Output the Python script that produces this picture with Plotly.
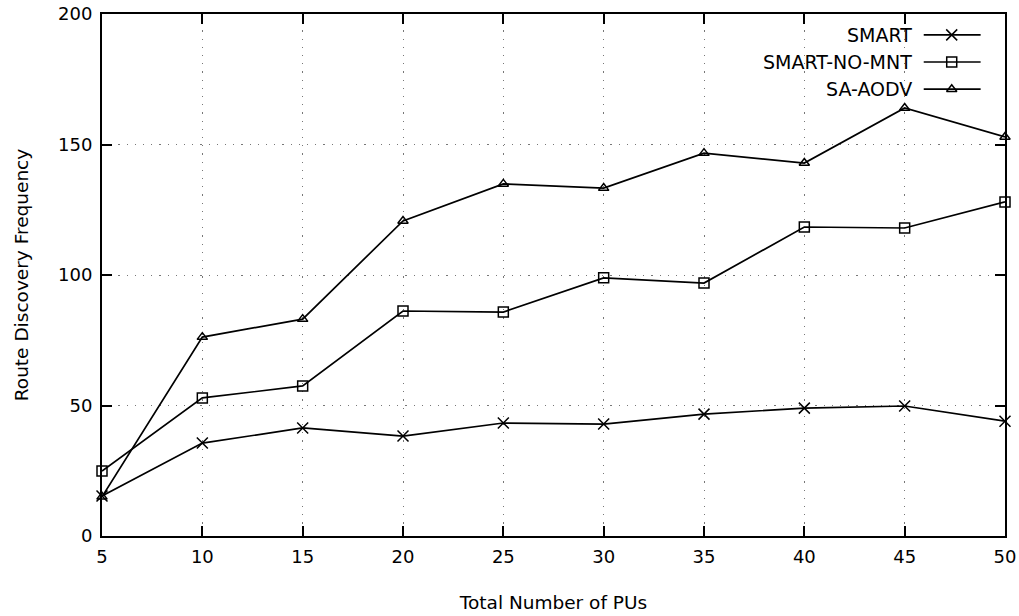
import plotly.graph_objects as go

x_pus = [5, 10, 15, 20, 25, 30, 35, 40, 45, 50]
smart = [15.3, 35.6, 41.4, 38.3, 43.3, 42.9, 46.7, 49.0, 49.8, 44.0]
smart_no_mnt = [24.9, 52.9, 57.5, 86.2, 85.8, 98.9, 96.9, 118.4, 118.0, 128.0]
sa_aodv = [15.0, 76.2, 83.1, 120.7, 134.9, 133.3, 146.7, 142.9, 164.0, 152.9]

series_names = ["SMART", "SMART-NO-MNT", "SA-AODV"]
series_values = [smart, smart_no_mnt, sa_aodv]
series_symbols = ["x-thin-open", "square-open", "triangle-up-open"]
marker_sizes = [11, 10, 9]

FONT = "DejaVu Sans"
fig = go.Figure()

for name, vals, sym, ms in zip(series_names, series_values, series_symbols, marker_sizes):
    fig.add_trace(go.Scatter(
        x=x_pus, y=vals, mode="lines+markers", name=name,
        line=dict(color="black", width=1.7),
        marker=dict(symbol=sym, size=ms, color="black", line=dict(color="black", width=1.5)),
        showlegend=False, cliponaxis=False,
    ))

# custom legend (text left of sample, gnuplot style) on an overlay axis in [0,1]
leg_y = [0.960, 0.908, 0.856]
for name, sym, ms, ly in zip(series_names, series_symbols, marker_sizes, leg_y):
    fig.add_trace(go.Scatter(
        x=[0.910, 0.973], y=[ly, ly], mode="lines", xaxis="x2", yaxis="y2",
        line=dict(color="black", width=1.7), showlegend=False, hoverinfo="skip"))
    fig.add_trace(go.Scatter(
        x=[0.941], y=[ly], mode="markers", xaxis="x2", yaxis="y2",
        marker=dict(symbol=sym, size=ms, color="black", line=dict(color="black", width=1.5)),
        showlegend=False, hoverinfo="skip"))
    fig.add_annotation(x=0.899, y=ly, xref="paper", yref="paper", text=name,
                       showarrow=False, xanchor="right", yanchor="middle",
                       font=dict(family=FONT, size=19, color="black"))

axis_common = dict(
    showline=True, linecolor="black", linewidth=2, mirror="ticks",
    ticks="inside", ticklen=10, tickwidth=1.5, tickcolor="black",
    showgrid=True, gridcolor="#777777", gridwidth=1.2, griddash="1.2px,7px",
    zeroline=False, automargin=False,
    tickfont=dict(family=FONT, size=18, color="black"),
)

fig.update_layout(
    width=1019, height=616,
    margin=dict(l=102, r=14, t=14, b=80),
    plot_bgcolor="white", paper_bgcolor="white",
    xaxis=dict(range=[5, 50], tickvals=x_pus, ticklabelstandoff=3, **axis_common,
               title=dict(text="Total Number of PUs", font=dict(family=FONT, size=18.5, color="black"), standoff=30)),
    yaxis=dict(range=[0, 200], tickvals=[0, 50, 100, 150, 200], ticklabelstandoff=4, **axis_common,
               title=dict(text="Route Discovery Frequency", font=dict(family=FONT, size=18.5, color="black"), standoff=25)),
    xaxis2=dict(range=[0, 1], overlaying="x", visible=False),
    yaxis2=dict(range=[0, 1], overlaying="y", visible=False),
)

fig.write_html("out.html")
